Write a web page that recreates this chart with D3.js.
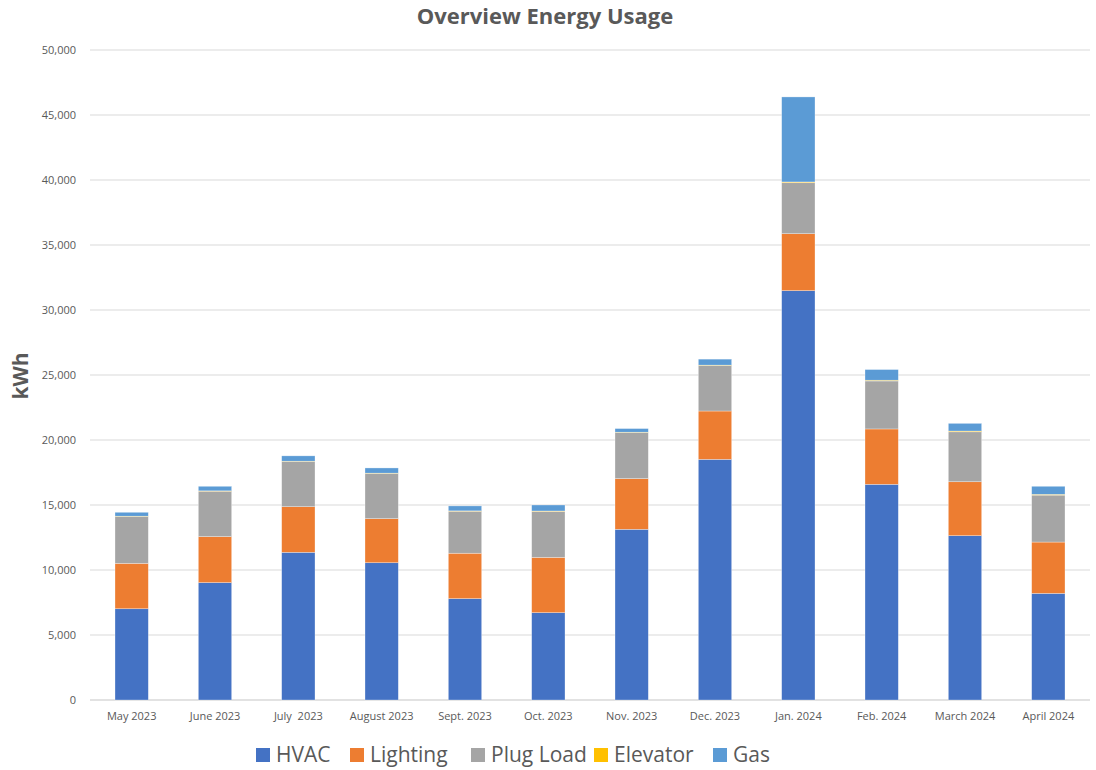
<!DOCTYPE html>
<html>
<head>
<meta charset="utf-8">
<script src="https://cdn.jsdelivr.net/npm/d3@7"></script>
<style>
  body { margin: 0; background: #fff; }
  svg { font-family: "Open Sans", "Noto Sans", sans-serif; }
</style>
</head>
<body>
<div id="chart"></div>
<script>
var months = ["May 2023", "June 2023", "July  2023", "August 2023", "Sept. 2023", "Oct. 2023",
    "Nov. 2023", "Dec. 2023", "Jan. 2024", "Feb. 2024", "March 2024", "April 2024"];
var seriesNames = ["HVAC", "Lighting", "Plug Load", "Elevator", "Gas"];
var seriesColors = ["#4472C4", "#ED7D31", "#A5A5A5", "#FFC000", "#5B9BD5"];

var hvac = [7020, 9030, 11360, 10560, 7800, 6720, 13130, 18510, 31490, 16590, 12640, 8200];
var lighting = [3490, 3540, 3510, 3390, 3490, 4250, 3900, 3720, 4380, 4260, 4150, 3950];
var plugLoad = [3600, 3490, 3470, 3470, 3230, 3540, 3540, 3500, 3920, 3690, 3840, 3610];
var elevator = [30, 30, 30, 30, 30, 30, 30, 30, 60, 60, 60, 60];
var gas = [300, 350, 410, 400, 380, 460, 280, 460, 6540, 820, 590, 620];
var yTicks = [0, 5000, 10000, 15000, 20000, 25000, 30000, 35000, 40000, 45000, 50000];

var width = 1096, height = 770,
    margin = {top: 50, right: 6, bottom: 70, left: 90};

var rows = months.map(function (m, i) {
    return {month: m, "HVAC": hvac[i], "Lighting": lighting[i], "Plug Load": plugLoad[i],
        "Elevator": elevator[i], "Gas": gas[i]};
});

var svg = d3.select("#chart").append("svg")
    .attr("width", width)
    .attr("height", height);

var x = d3.scaleBand()
    .domain(months)
    .range([margin.left, width - margin.right])
    .paddingInner(0.6)
    .paddingOuter(0.3);

var y = d3.scaleLinear()
    .domain([0, 50000])
    .range([height - margin.bottom, margin.top]);

// gridlines
svg.append("g")
    .selectAll("line")
    .data(yTicks)
    .enter()
    .append("line")
    .attr("x1", margin.left)
    .attr("x2", width - margin.right)
    .attr("y1", function (d) { return y(d); })
    .attr("y2", function (d) { return y(d); })
    .style("stroke", "#d9d9d9")
    .style("stroke-width", function (d) { return d === 0 ? 1.5 : 1; });

// y axis labels
var yAxis = d3.axisLeft(y)
    .tickValues(yTicks)
    .tickFormat(d3.format(","))
    .tickSize(0)
    .tickPadding(14);

svg.append("g")
    .attr("transform", "translate(" + margin.left + ",0)")
    .attr("font-family", null)
    .call(yAxis)
    .call(function (g) { g.select(".domain").remove(); })
    .selectAll("text")
    .style("font-family", "'Open Sans', sans-serif")
    .style("font-size", "11px")
    .style("fill", "#595959");

// stacked bars
var stack = d3.stack().keys(seriesNames);
var layers = stack(rows);

svg.append("g")
    .selectAll("g")
    .data(layers)
    .enter()
    .append("g")
    .style("fill", function (d, i) { return seriesColors[i]; })
    .selectAll("rect")
    .data(function (d) { return d; })
    .enter()
    .append("rect")
    .attr("x", function (d) { return x(d.data.month); })
    .attr("width", x.bandwidth())
    .attr("y", function (d) { return y(d[1]); })
    .attr("height", function (d) { return y(d[0]) - y(d[1]); })
    .style("stroke", "#ffffff")
    .style("stroke-opacity", 0.5)
    .style("stroke-width", 0.6);

// x axis labels
var xAxis = d3.axisBottom(x).tickSize(0).tickPadding(12);

svg.append("g")
    .attr("transform", "translate(0," + (height - margin.bottom) + ")")
    .call(xAxis)
    .call(function (g) { g.select(".domain").remove(); })
    .selectAll("text")
    .style("font-family", "'Open Sans', sans-serif")
    .style("font-size", "11px")
    .style("fill", "#595959")
    .style("white-space", "pre");

// title
svg.append("text")
    .attr("x", 545)
    .attr("y", 24)
    .attr("text-anchor", "middle")
    .style("font-size", "22px")
    .style("font-weight", "bold")
    .style("fill", "#595959")
    .text("Overview Energy Usage");

// y label
svg.append("text")
    .attr("transform", "translate(28," + 376 + ") rotate(-90)")
    .attr("text-anchor", "middle")
    .style("font-size", "21px")
    .style("font-weight", "bold")
    .style("fill", "#595959")
    .text("kWh");

// legend
var legendX = [256, 350, 471, 594, 713];
var legend = svg.append("g")
    .selectAll("g")
    .data(seriesNames)
    .enter()
    .append("g")
    .attr("transform", function (d, i) { return "translate(" + legendX[i] + ",748)"; });

legend.append("rect")
    .attr("width", 14)
    .attr("height", 14)
    .style("fill", function (d, i) { return seriesColors[i]; });

legend.append("text")
    .attr("x", 20)
    .attr("y", 14)
    .style("font-size", "21px")
    .style("fill", "#595959")
    .text(function (d) { return d; });
</script>
</body>
</html>
